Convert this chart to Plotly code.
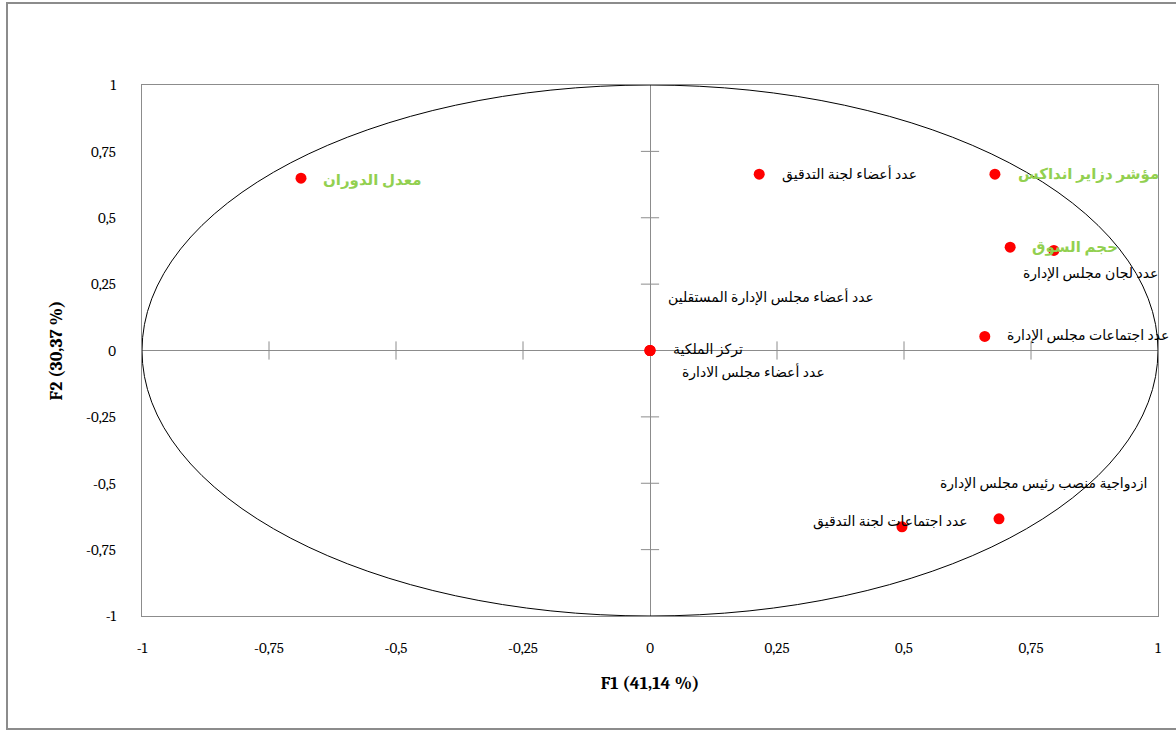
import plotly.graph_objects as go

# ---- data ----
variables = [
    "معدل الدوران",
    "عدد أعضاء لجنة التدقيق",
    "مؤشر دزاير انداكس",
    "حجم السوق",
    "عدد لجان مجلس الإدارة",
    "عدد اجتماعات مجلس الإدارة",
    "ازدواجية منصب رئيس مجلس الإدارة",
    "عدد اجتماعات لجنة التدقيق",
    "تركز الملكية",
    "عدد أعضاء مجلس الإدارة المستقلين",
    "عدد أعضاء مجلس الادارة",
]
f1 = [-0.687, 0.215, 0.679, 0.709, 0.795, 0.659, 0.687, 0.496, 0.0, 0.0, 0.0]
f2 = [0.649, 0.664, 0.664, 0.389, 0.377, 0.053, -0.634, -0.664, 0.0, 0.0, 0.0]
highlight = [True, False, True, True, False, False, False, False, False, False, False]

tick_vals = [-1, -0.75, -0.5, -0.25, 0, 0.25, 0.5, 0.75, 1]
tick_text = ["-1", "-0,75", "-0,5", "-0,25", "0", "0,25", "0,5", "0,75", "1"]
x_title = "F1 (41,14 %)"
y_title = "F2 (30,37 %)"

# ---- label placement (pixel offsets, anchor) ----
label_pos = [
    ("left", 20, -2),
    ("left", 21, 0),
    ("left", 21, 0),
    ("left", 20, 0),
    ("center", 37, -24),
    ("left", 20, 0),
    ("center", 44, 35),
    ("center", -11, 5),
    ("left", 21, 1),
    ("left", 16, 54),
    ("left", 30, -21),
]

AR_FONT = "Times New Roman, Liberation Serif, DejaVu Serif, DejaVu Sans"
SERIF = "Cambria, Liberation Serif, DejaVu Serif"
GRAY = "#8c8c8c"

fig = go.Figure()

# cross tick marks on the central axes
inner = [t for t in tick_vals if t != 0 and abs(t) != 1]
fig.add_trace(go.Scatter(
    x=inner, y=[0] * len(inner), mode="markers",
    marker=dict(symbol="line-ns", size=13, line=dict(color=GRAY, width=1)),
    hoverinfo="skip", showlegend=False))
fig.add_trace(go.Scatter(
    x=[0] * len(inner), y=inner, mode="markers",
    marker=dict(symbol="line-ew", size=13, line=dict(color=GRAY, width=1)),
    hoverinfo="skip", showlegend=False))

# correlation circle
fig.add_shape(type="circle", xref="x", yref="y", x0=-1, y0=-1, x1=1, y1=1,
              line=dict(color="black", width=1), layer="above")

# points
fig.add_trace(go.Scatter(
    x=f1, y=f2, mode="markers",
    marker=dict(color="#ff0000", size=11),
    text=variables, hoverinfo="text", showlegend=False))

for name, x, y, hl, (anc, dx, dy) in zip(variables, f1, f2, highlight, label_pos):
    fig.add_annotation(
        x=x, y=y, text=f"<b>{name}</b>" if hl else name, showarrow=False,
        xanchor=anc, yanchor="middle", xshift=dx, yshift=dy,
        font=dict(family=AR_FONT, size=15 if hl else 14,
                  color="#92d050" if hl else "black"))

# outer chart frame
fig.add_shape(type="rect", xref="paper", yref="paper",
              x0=(7 - 142) / 1016, x1=(1185 - 142) / 1016,
              y0=(616 - 729) / 531, y1=(616 - 3) / 531,
              line=dict(color=GRAY, width=2), layer="below")

axis_common = dict(
    range=[-1, 1], tickmode="array", tickvals=tick_vals, ticktext=tick_text,
    showgrid=False, zeroline=True, zerolinecolor=GRAY, zerolinewidth=1,
    showline=True, linecolor=GRAY, linewidth=1, mirror=True,
    ticks="", tickfont=dict(family=SERIF, size=15, color="black"),
    fixedrange=True,
)

fig.update_layout(
    width=1176, height=731,
    margin=dict(l=142, r=18, t=85, b=115),
    paper_bgcolor="white", plot_bgcolor="white",
    xaxis=dict(**axis_common, ticklabelstandoff=18,
               title=dict(text=f"<b>{x_title}</b>", standoff=20,
                          font=dict(family=SERIF, size=18, color="black"))),
    yaxis=dict(**axis_common, ticklabelstandoff=22,
               title=dict(text=f"<b>{y_title}</b>", standoff=18,
                          font=dict(family=SERIF, size=18, color="black"))),
    showlegend=False,
)

fig.write_html("out.html", config={"displayModeBar": False},
               post_script="document.body.style.margin='0';document.body.style.overflow='hidden';")
